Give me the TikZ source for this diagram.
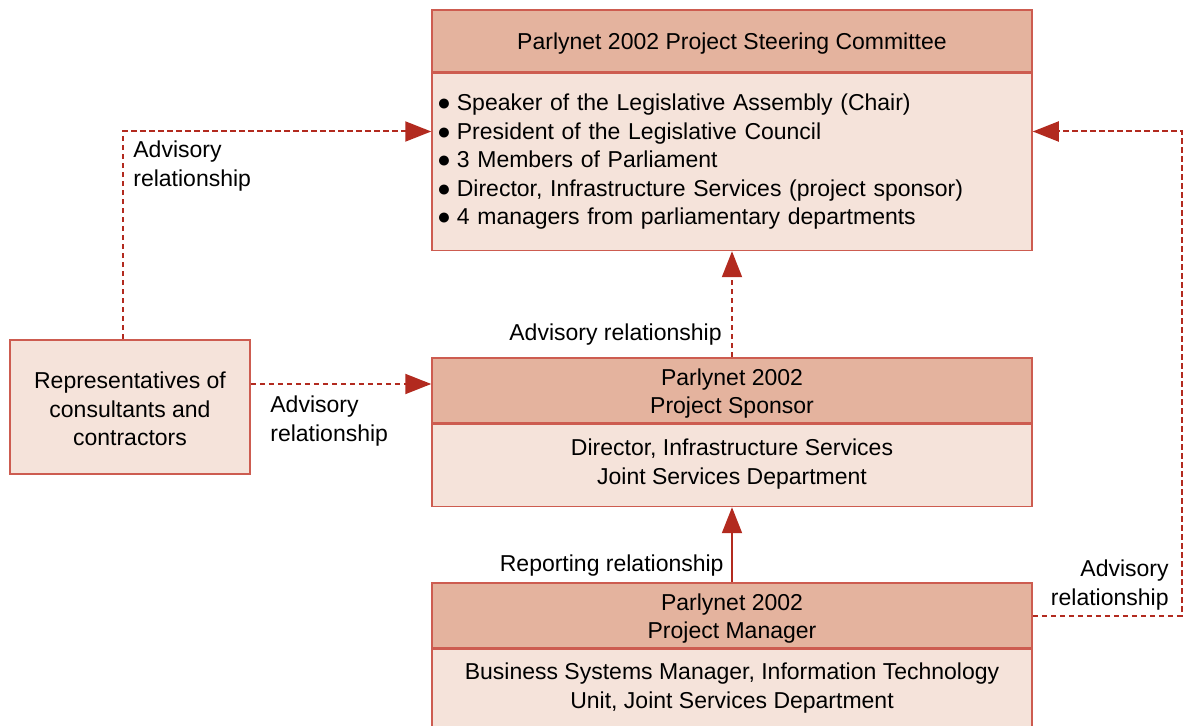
\documentclass[tikz,border=0pt]{standalone}
\usepackage{fontspec}
\setmainfont{Liberation Sans}
\usetikzlibrary{arrows.meta, positioning}
\definecolor{hdfill}{HTML}{E4B39E}
\definecolor{bdfill}{HTML}{F5E3DA}
\definecolor{edge}{HTML}{CD5C50}
\definecolor{arr}{HTML}{B22A1F}
\tikzset{
  box/.style  = {draw=edge, line width=0.75pt, fill=bdfill, align=center,
                 inner sep=0pt, minimum width=300pt,
                 font=\fontsize{11.5}{14.25}\selectfont},
  head/.style = {box, fill=hdfill},
  sig/.style  = {-{Triangle[length=13pt, width=10pt]}, draw=arr, line width=1pt},
  adv/.style  = {sig, dash pattern=on 2.8pt off 1.7pt},
  lab/.style  = {font=\fontsize{11.5}{14.25}\selectfont, inner sep=0pt},
}
\newcommand{\blt}{●\hspace{3pt}}
% drop a line a little without changing its box
\newcommand{\lo}[2][1.5pt]{\raisebox{-#1}[\height][\depth]{#2}}

\begin{document}
\begin{tikzpicture}[x=0.5pt, y=-0.5pt]
  \useasboundingbox (0,0) rectangle (1183,726);

  % steering committee
  \node[head, minimum height=31pt] (steerhd) at (732,41)
    {\lo{Parlynet 2002 Project Steering Committee}};
  \node[box, minimum height=88.5pt, text width=295pt, align=left,
        below=0pt of steerhd] (steer)
    {\blt Speaker of the Legislative Assembly (Chair)\\
     \blt President of the Legislative Council\\
     \blt 3 Members of Parliament\\
     \blt Director, Infrastructure Services (project sponsor)\\
     \blt 4 managers from parliamentary departments};

  % project sponsor
  \node[head, minimum height=32.5pt] (spnhd) at (732,390.5)
    {\lo{Parlynet 2002}\\\lo{Project Sponsor}};
  \node[box, minimum height=41pt, below=0pt of spnhd] (spn)
    {\lo[-0.75pt]{Director, Infrastructure Services}\\
     \lo[-0.75pt]{Joint Services Department}};

  % project manager
  \node[head, minimum height=32.5pt] (mgrhd) at (732,615.5)
    {\lo{Parlynet 2002}\\\lo{Project Manager}};
  \node[box, minimum height=42pt, below=0pt of mgrhd] (mgr) {};
  \node[lab, align=center] (mgrtxt) at (732,688)
    {Business Systems Manager, Information Technology\\Unit, Joint Services Department};

  % consultants
  \node[box, minimum width=120pt, minimum height=67pt] (rep) at (130,407)
    {\lo[1pt]{Representatives of}\\\lo[1pt]{consultants and}\\\lo[1pt]{contractors}};

  % relationships
  \draw[adv] ([xshift=-3.5pt]rep.north) |- ([yshift=15.25pt]steer.west);
  \draw[adv] ([yshift=11.5pt]rep.east) -- ([yshift=11.5pt]rep.east -| spnhd.west);
  \draw[adv] (spnhd.north) -- (steer.south);
  \draw[sig] (mgrhd.north) -- (spn.south);
  \draw[adv] (mgrhd.east) -- ++(149.5,0) |- ([yshift=15.25pt]steer.east);

  \node[lab, align=left, anchor=west] (advl) at (133,166) {Advisory\\relationship};
  \node[lab, anchor=east] (advm) at (722,335) {Advisory relationship};
  \node[lab, align=left, anchor=west] (advc) at (270,421) {Advisory\\relationship};
  \node[lab, anchor=east] (rpt) at (724,566) {Reporting relationship};
  \node[lab, align=right, anchor=east] (advr) at (1169,585) {Advisory\\relationship};
\end{tikzpicture}
\end{document}
